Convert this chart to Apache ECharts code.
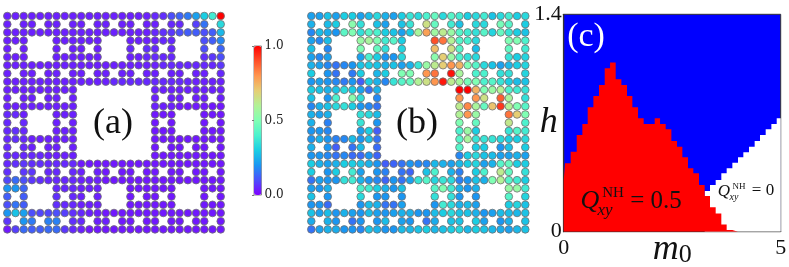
<!DOCTYPE html>
<html><head><meta charset="utf-8">
<style>html,body{margin:0;padding:0;background:#fff}#c{width:789px;height:267px}</style>
<script src="https://cdn.jsdelivr.net/npm/echarts@6/dist/echarts.min.js"></script>
</head><body><div id="c"></div>
<script>
const rainbowStops=['#8000ff','#4c4ffc','#1a96f2','#1acee3','#4cf2ce','#80ffb4','#b2f296','#e6ce74','#ff964f','#ff4f28','#ff0000'];
const latticeMask=[
'###########################','#.##.##.##.##.##.##.##.##.#','###########################',
'###...######...######...###','#.#...#.##.#...#.##.#...#.#','###...######...######...###',
'###########################','#.##.##.##.##.##.##.##.##.#','###########################',
'#########.........#########','#.##.##.#.........#.##.##.#','#########.........#########',
'###...###.........###...###','#.#...#.#.........#.#...#.#','###...###.........###...###',
'#########.........#########','#.##.##.#.........#.##.##.#','#########.........#########',
'###########################','#.##.##.##.##.##.##.##.##.#','###########################',
'###...######...######...###','#.#...#.##.#...#.##.#...#.#','###...######...######...###',
'###########################','#.##.##.##.##.##.##.##.##.#','###########################'];
const panelA=[
[.04,.04,.04,.04,.04,.04,.04,.04,.04,.04,.04,.04,.04,.04,.04,.04,.04,.04,.05,.06,.10,.13,.16,.22,.30,.38,1],
[.04,.04,.04,.04,.04,.04,.04,.04,.04,.04,.04,.04,.04,.05,.05,.08,.15,.33],
[.04,.04,.04,.04,.04,.04,.04,.04,.04,.04,.04,.04,.04,.04,.04,.04,.04,.04,.05,.06,.07,.10,.12,.12,.10,.12,.26],
[.04,.04,.04,.04,.04,.04,.04,.04,.04,.04,.04,.04,.04,.05,.05,.10,.12,.18],
[.04,.04,.04,.04,.04,.04,.05,.06,.05,.05,.10,.13],
[.04,.04,.04,.04,.04,.04,.04,.04,.04,.04,.04,.05,.05,.05,.05,.06,.07,.10],
[.04,.04,.04,.04,.04,.04,.04,.04,.04,.04,.04,.04,.04,.04,.04,.04,.04,.04,.04,.05,.05,.05,.05,.05,.05,.05,.07],
[.04,.04,.04,.04,.04,.04,.04,.04,.04,.04,.04,.04,.04,.04,.04,.04,.04,.05],
[.04,.04,.04,.04,.04,.04,.04,.04,.04,.04,.04,.04,.04,.05,.05,.05,.05,.05,.05,.05,.05,.05,.05,.04,.04,.04,.04],
[.04,.04,.04,.04,.04,.04,.04,.04,.04,.04,.04,.04,.04,.04,.04,.04,.04,.04],
[.04,.04,.04,.04,.04,.04,.04,.04,.04,.04,.04,.04],
[.04,.04,.04,.04,.04,.04,.04,.04,.04,.04,.04,.04,.03,.03,.03,.03,.03,.03],
[.05,.05,.04,.04,.04,.04,.03,.03,.03,.03,.03,.03],
[.05,.05,.04,.04,.03,.03,.03,.03],
[.05,.06,.05,.04,.04,.04,.03,.03,.03,.03,.03,.03],
[.05,.06,.05,.04,.04,.04,.04,.04,.04,.03,.03,.03,.03,.03,.03,.03,.03,.03],
[.05,.05,.04,.04,.04,.04,.03,.03,.03,.03,.03,.03],
[.05,.05,.05,.05,.05,.04,.04,.04,.04,.03,.03,.03,.03,.03,.03,.03,.03,.03],
[.05,.06,.07,.06,.06,.05,.05,.05,.05,.03,.03,.03,.03,.03,.03,.03,.03,.03,.03,.03,.03,.03,.03,.03,.03,.03,.03],
[.06,.07,.07,.05,.05,.05,.04,.04,.03,.03,.03,.03,.03,.03,.03,.03,.03,.03],
[.09,.14,.10,.07,.06,.05,.05,.05,.05,.04,.04,.04,.03,.03,.03,.03,.03,.03,.03,.03,.03,.03,.03,.03,.03,.03,.03],
[.20,.20,.13,.05,.05,.05,.04,.04,.04,.03,.03,.03,.03,.03,.03,.03,.03,.03],
[.12,.12,.06,.05,.04,.04,.03,.03,.03,.03,.03,.03],
[.10,.15,.12,.06,.05,.05,.04,.04,.04,.03,.03,.03,.03,.03,.03,.03,.03,.03],
[.20,.28,.22,.10,.09,.09,.10,.08,.06,.05,.04,.04,.03,.03,.03,.03,.03,.03,.03,.03,.03,.03,.03,.03,.03,.03,.03],
[.07,.20,.16,.17,.17,.06,.05,.04,.04,.03,.03,.03,.03,.03,.03,.03,.03,.03],
[.03,.08,.14,.12,.12,.14,.14,.07,.05,.04,.03,.03,.03,.03,.03,.03,.03,.03,.03,.03,.03,.03,.03,.03,.03,.03,.03]];
const panelB=[
[.22,.22,.28,.22,.30,.30,.22,.27,.33,.25,.22,.30,.36,.33,.40,.45,.33,.42,.38,.30,.33,.38,.28,.33,.38,.30,.33],
[.25,.27,.30,.52,.35,.28,.22,.28,.36,.65,.45,.38,.28,.33,.33,.48,.42,.30],
[.18,.27,.24,.20,.43,.50,.35,.42,.40,.30,.28,.22,.30,.58,.78,.56,.62,.55,.42,.38,.35,.42,.32,.45,.36,.30,.28],
[.22,.18,.27,.55,.58,.50,.38,.42,.30,.90,.85,.60,.42,.40,.33,.50,.50,.40],
[.28,.18,.50,.45,.35,.32,.73,.65,.42,.27,.45,.38],
[.22,.18,.22,.22,.40,.30,.20,.20,.33,.52,.70,.55,.40,.35,.33,.36,.30,.32],
[.25,.22,.18,.15,.18,.20,.28,.30,.28,.25,.28,.22,.25,.36,.55,.62,.70,.80,.75,.50,.42,.33,.28,.22,.26,.30,.32],
[.30,.20,.15,.16,.30,.26,.30,.50,.50,.80,.85,.98,.58,.40,.40,.35,.35,.32],
[.20,.22,.20,.18,.16,.20,.12,.30,.25,.18,.36,.42,.45,.60,.65,.80,.97,.62,.58,.48,.50,.40,.42,.36,.30,.27,.28],
[.30,.28,.25,.28,.33,.30,.22,.15,.25,1,1,.75,.50,.55,.60,.40,.38,.36],
[.28,.20,.40,.52,.35,.18,.80,.80,.65,.88,.58,.35],
[.18,.25,.28,.33,.35,.30,.20,.18,.15,.62,.82,.58,.45,.72,.93,.60,.50,.42],
[.25,.22,.25,.35,.33,.27,.60,.80,.55,.85,.70,.50],
[.25,.17,.36,.20,.50,.45,.63,.40],
[.20,.20,.18,.22,.30,.12,.40,.55,.30,.36,.42,.38],
[.20,.25,.20,.17,.18,.27,.20,.27,.15,.42,.58,.36,.36,.36,.33,.30,.30,.33],
[.25,.20,.12,.15,.27,.14,.42,.30,.30,.20,.28,.30],
[.20,.20,.18,.15,.18,.14,.14,.20,.13,.18,.30,.33,.28,.27,.22,.22,.25,.22],
[.30,.25,.22,.25,.30,.30,.28,.25,.20,.12,.13,.15,.20,.18,.18,.26,.25,.22,.26,.30,.32,.22,.25,.42,.45,.30,.30],
[.30,.20,.30,.38,.22,.20,.17,.15,.13,.28,.40,.25,.17,.30,.40,.62,.45,.35],
[.15,.22,.20,.20,.35,.38,.25,.20,.18,.13,.20,.15,.22,.36,.42,.32,.36,.33,.17,.20,.28,.25,.50,.60,.42,.38,.30],
[.22,.20,.25,.40,.38,.30,.25,.20,.28,.42,.50,.38,.25,.20,.25,.55,.55,.38],
[.28,.20,.33,.20,.20,.20,.35,.35,.20,.20,.42,.32],
[.20,.20,.14,.20,.27,.25,.15,.15,.22,.20,.38,.33,.25,.27,.22,.30,.32,.28],
[.28,.22,.27,.20,.25,.22,.20,.27,.22,.20,.22,.25,.25,.20,.20,.27,.30,.33,.28,.28,.25,.20,.22,.27,.27,.26,.28],
[.24,.25,.20,.15,.20,.20,.27,.22,.20,.15,.24,.28,.28,.30,.22,.20,.25,.28],
[.15,.22,.25,.24,.20,.20,.18,.28,.25,.20,.20,.27,.26,.28,.30,.26,.28,.30,.32,.26,.30,.28,.26,.24,.22,.26,.28]];
const m0Edges=[0,.031,.161,.300,.430,.553,.684,.814,.945,1.068,1.198,1.329,1.459,1.582,1.713,1.843,1.974,2.097,2.220,2.350,2.481,2.611,2.734,2.864,2.987,3.117,3.248,3.371,3.502,3.632,3.755,3.886,4.016,4.139,4.270,4.400,4.523,4.654,4.785,4.908,5];
const redTop=[.333,.440,.515,.623,.693,.801,.874,.945,1.052,1.089,.981,.945,.874,.801,.730,.693,.693,.730,.693,.659,.584,.547,.479,.408,.376,.301,.230,.157,.118,.047,.011,0,0,0,0,0,0,0,0,0,0];
const whiteTop=[0,0,0,0,0,0,0,0,0,0,0,0,0,0,0,0,0,0,0,0,0,0,0,0,0,0,.262,.301,.333,.376,.408,.444,.479,.511,.547,.584,.623,.659,.693,.730,.730];

function cells(rows){const out=[];rows.forEach((vals,r)=>{let i=0;[...latticeMask[r]].forEach((ch,c)=>{if(ch==='#'&&i<vals.length)out.push([c,r,vals[i++]]);});});return out;}
const serif='"Liberation Serif","Times New Roman",serif';
const dotGrid=(left,w)=>({left,top:16,width:w,height:213.4,outerBoundsMode:'none'});
const hiddenX=(g)=>({type:'value',gridIndex:g,min:0,max:26,show:false});
const hiddenY=(g)=>({type:'value',gridIndex:g,min:0,max:26,inverse:true,show:false});
const dots=(g,d)=>({type:'scatter',xAxisIndex:g,yAxisIndex:g,data:d,symbol:'circle',symbolSize:7.6,silent:true,animation:false,itemStyle:{borderColor:'#707070',borderWidth:0.8,opacity:1},encode:{x:0,y:1}});
const text=(x,y,t,size,opts={})=>({type:'text',x,y,silent:true,z:50,style:{text:t,font:(opts.italic?'italic ':'')+size+'px '+serif,fill:opts.fill||'#111',textAlign:'center',textVerticalAlign:'middle'}});

const chart=echarts.init(document.getElementById('c'),null,{renderer:'canvas'});
chart.setOption({
 animation:false,backgroundColor:'#fff',
 grid:[dotGrid(7.3,213.4),dotGrid(311.3,214),
  {left:563.7,top:14.3,width:217,height:217.4,show:true,backgroundColor:'#0000ff',borderColor:'#333',borderWidth:1,outerBoundsMode:'none'},
  {left:254,top:46,width:7.5,height:149,show:true,backgroundColor:'transparent',borderColor:'#888',borderWidth:1,outerBoundsMode:'none'}],
 xAxis:[hiddenX(0),hiddenX(1),
  {type:'value',gridIndex:2,min:0,max:5,interval:5,axisLine:{show:true,lineStyle:{color:'#333',width:1.2}},axisTick:{show:false},splitLine:{show:false},
   axisLabel:{fontFamily:serif,fontSize:22,color:'#111',margin:6,hideOverlap:false},
   name:'{m|m}{s|0}',nameLocation:'middle',nameGap:-6,nameMoveOverlap:false,nameTextStyle:{rich:{m:{fontFamily:serif,fontStyle:'italic',fontSize:36,color:'#111',verticalAlign:'bottom'},s:{fontFamily:serif,fontSize:26,color:'#111',verticalAlign:'top',padding:[16,0,0,0]}}}},
  {type:'value',gridIndex:3,min:0,max:1,show:false}],
 yAxis:[hiddenY(0),hiddenY(1),
  {type:'value',gridIndex:2,min:0,max:1.4,interval:1.4,axisLine:{show:true,lineStyle:{color:'#333',width:1.2}},axisTick:{show:false},splitLine:{show:false},
   axisLabel:{fontFamily:serif,fontSize:22,color:'#111',margin:2,formatter:v=>v===0?'0':v.toFixed(1)},
   name:'h',nameLocation:'middle',nameRotate:0,nameGap:6,nameMoveOverlap:false,nameTextStyle:{fontFamily:serif,fontStyle:'italic',fontSize:36,color:'#111'}},
  {type:'value',gridIndex:3,min:0,max:1,interval:.5,position:'right',axisLine:{show:false},axisTick:{show:true,inside:true,length:2,lineStyle:{color:'#777'}},splitLine:{show:false},
   axisLabel:{fontFamily:'"DejaVu Serif",serif',fontSize:12,color:'#222',margin:3,formatter:v=>v.toFixed(1)}}],
 visualMap:[{type:'continuous',seriesIndex:[0,1],min:0,max:1,show:true,calculable:false,realtime:false,left:254,top:46,itemWidth:7.5,itemHeight:149,padding:0,text:['',''],textGap:0,showLabel:false,inRange:{color:rainbowStops}}],
 series:[dots(0,cells(panelA)),dots(1,cells(panelB)),
  {type:'line',xAxisIndex:2,yAxisIndex:2,step:'end',symbol:'none',silent:true,animation:false,lineStyle:{width:0},itemStyle:{color:'#fff'},areaStyle:{color:'#fff',opacity:1},data:m0Edges.map((m,i)=>[m,whiteTop[i]])},
  {type:'line',xAxisIndex:2,yAxisIndex:2,step:'end',symbol:'none',silent:true,animation:false,lineStyle:{width:0},itemStyle:{color:'#f00'},areaStyle:{color:'#f00',opacity:1},data:m0Edges.map((m,i)=>[m,redTop[i]])}],
 graphic:[
  text(113,124,'(a)',36),text(417,124,'(b)',36),text(586,37,'(c)',34,{fill:'#fff'}),
  text(590,201,'Q',26,{italic:true}),text(613,193,'NH',15),text(605,211,'xy',17,{italic:true}),text(656,201,'= 0.5',25),
  text(724,192,'Q',17,{italic:true}),text(739,187,'NH',9),text(734,197,'xy',10,{italic:true}),text(763,191,'= 0',17)
 ]
});
</script></body></html>
